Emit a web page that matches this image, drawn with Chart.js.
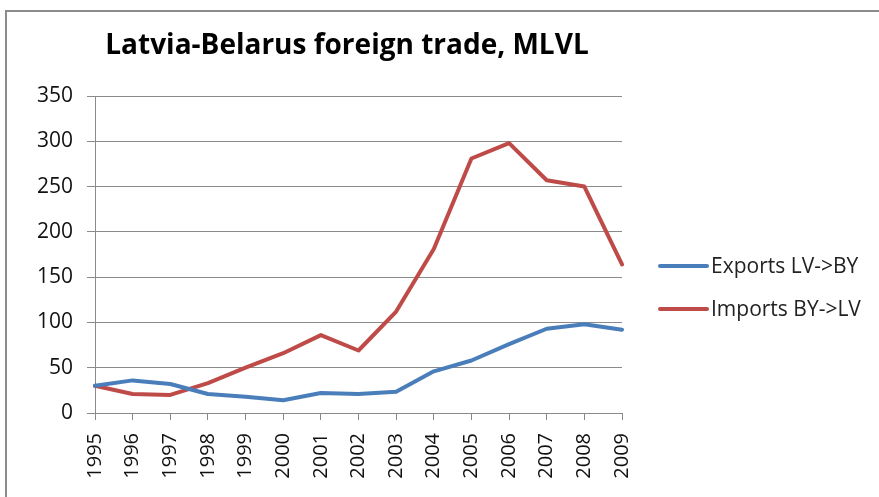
<!DOCTYPE html>
<html>
<head>
<meta charset="utf-8">
<script src="https://cdn.jsdelivr.net/npm/chart.js@4"></script>
<style>
  html, body { margin: 0; padding: 0; background: #fff; overflow: hidden; }
  #frame { position: absolute; left: 5px; top: 10px; width: 1000px; height: 700px; border: 2px solid #8c8c8c; box-sizing: border-box; }
  #wrap { position: absolute; left: 0; top: 0; width: 879px; height: 497px; }
</style>
</head>
<body>
<div id="frame"></div>
<div id="wrap"><canvas id="c" width="879" height="497"></canvas></div>
<script>
const titleText = "Latvia-Belarus foreign trade, MLVL";
const years = ["1995","1996","1997","1998","1999","2000","2001","2002","2003","2004","2005","2006","2007","2008","2009"];
const exportsLabel = "Exports LV->BY";
const importsLabel = "Imports BY->LV";
const exportsLVBY = [30, 36, 32, 21, 18, 14, 22, 21, 23.5, 46, 58, 76, 93, 98, 92];
const importsBYLV = [30, 21, 20, 33, 50, 66, 86, 69, 112, 181, 281, 298, 257, 250, 164];
const yTicks = [0, 50, 100, 150, 200, 250, 300, 350];

const FONT = "'Open Sans', 'Noto Sans', sans-serif";
const gridColor = "#8a8a8a";

const customText = {
  id: "customText",
  afterDraw(chart) {
    const ctx = chart.ctx;
    ctx.save();
    ctx.fillStyle = "#000";
    ctx.font = "bold 28px " + FONT;
    ctx.textAlign = "center";
    ctx.textBaseline = "alphabetic";
    ctx.fillText(titleText, 347, 54);
    // legend
    const ys = [266, 309];
    ctx.font = "21px " + FONT;
    ctx.textAlign = "left";
    ctx.textBaseline = "middle";
    chart.data.datasets.forEach((ds, i) => {
      ctx.strokeStyle = ds.borderColor;
      ctx.lineWidth = 4;
      ctx.lineCap = "round";
      ctx.beginPath();
      ctx.moveTo(660, ys[i]);
      ctx.lineTo(707, ys[i]);
      ctx.stroke();
      ctx.fillStyle = "#222";
      ctx.fillText(ds.label, 711, ys[i] + 1);
    });
    ctx.restore();
  }
};

new Chart(document.getElementById("c"), {
  type: "line",
  data: {
    labels: years,
    datasets: [
      { label: exportsLabel, data: exportsLVBY, borderColor: "#4A7EBB", backgroundColor: "#4A7EBB", borderWidth: 4, pointRadius: 0, tension: 0, borderCapStyle: "round", borderJoinStyle: "round" },
      { label: importsLabel, data: importsBYLV, borderColor: "#BE4B48", backgroundColor: "#BE4B48", borderWidth: 4, pointRadius: 0, tension: 0, borderCapStyle: "round", borderJoinStyle: "round" }
    ]
  },
  options: {
    responsive: false,
    animation: false,
    devicePixelRatio: 1,
    layout: { padding: { left: 0, top: 96, right: 257, bottom: 0 } },
    plugins: { legend: { display: false }, title: { display: false }, tooltip: { enabled: false } },
    scales: {
      x: {
        type: "category",
        offset: false,
        grid: { drawOnChartArea: false, drawTicks: true, tickLength: 7, color: gridColor, lineWidth: 1 },
        border: { color: gridColor, width: 1 },
        ticks: { color: "#111", font: { family: FONT, size: 20 }, minRotation: 90, maxRotation: 90, padding: 13, autoSkip: false },
        afterFit(scale) { scale.height = 84; }
      },
      y: {
        min: 0, max: 350,
        afterBuildTicks(scale) { scale.ticks = yTicks.map(v => ({ value: v })); },
        grid: { color: gridColor, lineWidth: 1, drawTicks: true, tickLength: 8 },
        border: { color: gridColor, width: 1 },
        ticks: { color: "#111", font: { family: FONT, size: 21 }, padding: 14 },
        afterFit(scale) { scale.width = 95; }
      }
    }
  },
  plugins: [customText]
});
</script>
</body>
</html>
